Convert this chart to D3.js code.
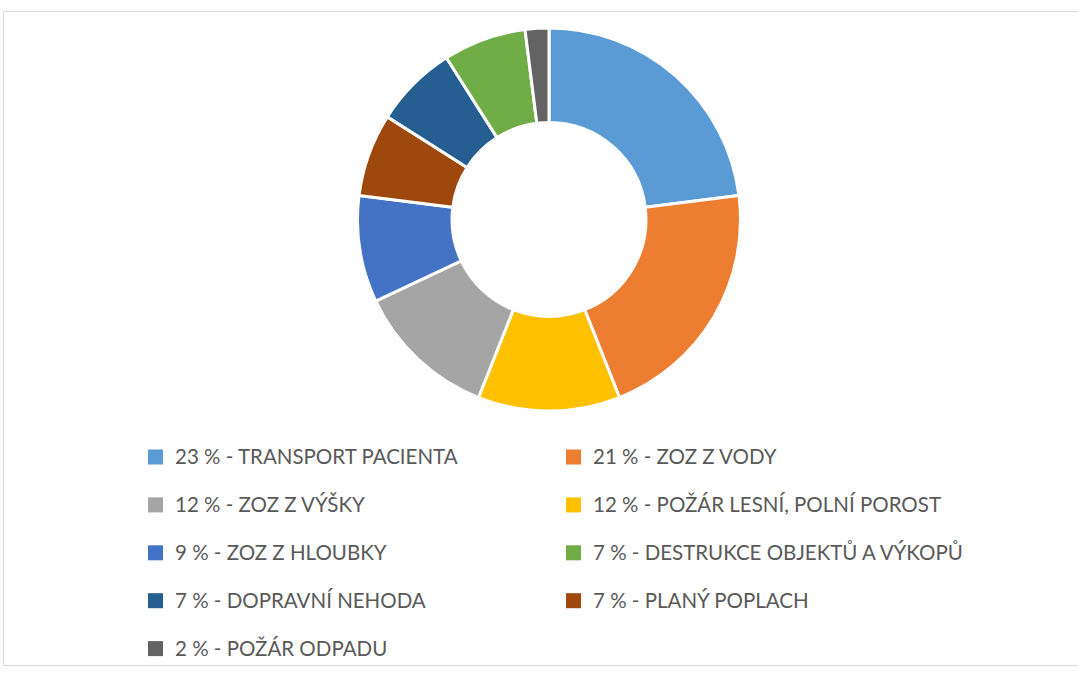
<!DOCTYPE html>
<html><head><meta charset="utf-8">
<script src="https://cdn.jsdelivr.net/npm/d3@7"></script>
<style>body{margin:0;background:#fff;} svg{display:block;}</style>
</head><body>
<svg id="chart" width="1078" height="689"></svg>
<script>
const categories = ["TRANSPORT PACIENTA","ZOZ Z VODY","POŽÁR LESNÍ, POLNÍ POROST","ZOZ Z VÝŠKY","ZOZ Z HLOUBKY","PLANÝ POPLACH","DOPRAVNÍ NEHODA","DESTRUKCE OBJEKTŮ A VÝKOPŮ","POŽÁR ODPADU"];
const values = [23,21,12,12,9,7,7,7,2];
const colors = ["#5B9BD5","#ED7D31","#FFC000","#A5A5A5","#4472C4","#9E480E","#255E91","#70AD47","#636363"];
const legendOrder = ["TRANSPORT PACIENTA","ZOZ Z VODY","ZOZ Z VÝŠKY","POŽÁR LESNÍ, POLNÍ POROST","ZOZ Z HLOUBKY","DESTRUKCE OBJEKTŮ A VÝKOPŮ","DOPRAVNÍ NEHODA","PLANÝ POPLACH","POŽÁR ODPADU"];

const svg = d3.select("#chart");
svg.append("rect").attr("x",3.5).attr("y",11.5).attr("width",1080).attr("height",654)
  .attr("fill","#fff").attr("stroke","#d9d9d9").attr("stroke-width",1);

const data = categories.map((c,i)=>({name:c,value:values[i],color:colors[i]}));
const pie = d3.pie().value(d=>d.value).sort(null);
const arc = d3.arc().innerRadius(97).outerRadius(191.5);
const g = svg.append("g").attr("transform","translate(549,219.5)");
g.selectAll("path").data(pie(data)).join("path")
  .attr("d",arc).attr("fill",d=>d.data.color)
  .attr("stroke","#fff").attr("stroke-width",3).attr("stroke-linejoin","miter");

const colX = [148,566];
const rowY = d3.range(5).map(i=>457+i*47.9);
const lg = svg.append("g");
legendOrder.forEach((name,i)=>{
  const d = data.find(x=>x.name===name);
  const x = colX[i%2], y = rowY[Math.floor(i/2)];
  lg.append("rect").attr("x",x).attr("y",y-7.5).attr("width",15).attr("height",15).attr("fill",d.color);
  lg.append("text").attr("x",x+27).attr("y",y).attr("dy","0.35em")
    .attr("font-family","Lato, 'Open Sans', sans-serif").attr("font-size",20.5)
    .attr("fill","#595959").text(`${d.value} % - ${d.name}`);
});
</script>
</body></html>
